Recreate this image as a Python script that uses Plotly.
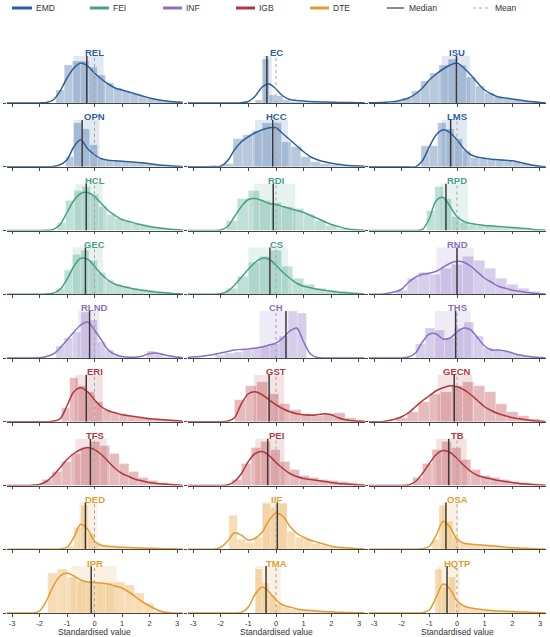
import plotly.graph_objects as go

# ---------------- data ----------------
NAMES = ["REL", "EC", "ISU",
         "OPN", "HCC", "LMS",
         "HCL", "RDI", "RPD",
         "GEC", "CS", "RND",
         "RLND", "CH", "THS",
         "ERI", "GST", "GECN",
         "TFS", "PEI", "TB",
         "DED", "IIF", "OSA",
         "IPR", "TMA", "HQTP"]
GROUPS = ["EMD", "EMD", "EMD",
          "EMD", "EMD", "EMD",
          "FEI", "FEI", "FEI",
          "FEI", "FEI", "INF",
          "INF", "INF", "INF",
          "IGB", "IGB", "IGB",
          "IGB", "IGB", "IGB",
          "DTE", "DTE", "DTE",
          "DTE", "DTE", "DTE"]
GROUP_ORDER = ["EMD", "FEI", "INF", "IGB", "DTE"]

MEDIANS = [-0.28, -0.33, -0.02,
           -0.45, -0.12, -0.23,
           -0.30, -0.10, -0.40,
           -0.33, -0.22, 0.00,
           -0.18, 0.36, -0.05,
           -0.30, -0.25, -0.10,
           -0.15, -0.30, -0.30,
           -0.33, 0.05, -0.40,
           -0.12, -0.36, -0.36]
MEANS = [0.0, 0.0, 0.0,
         0.0, 0.0, 0.0,
         0.0, 0.0, 0.0,
         0.0, 0.0, 0.0,
         0.0, 0.0, 0.0,
         0.0, 0.0, 0.0,
         0.0, 0.0, 0.0,
         0.0, 0.0, 0.0,
         0.0, 0.0, 0.0]
Q1 = [-0.76, -0.45, -0.55,
      -0.76, -0.76, -0.55,
      -0.70, -0.80, -0.60,
      -0.80, -1.00, -0.75,
      -0.60, -0.60, -0.80,
      -0.70, -0.80, -0.70,
      -0.70, -0.75, -0.75,
      -0.55, -0.47, -0.55,
      -0.85, -0.76, -0.70]
Q3 = [0.33, -0.15, 0.47,
      0.18, 0.43, 0.36,
      0.30, 0.70, 0.40,
      0.30, 0.43, 0.60,
      0.18, 0.45, 0.50,
      0.30, 0.30, 0.55,
      0.45, 0.30, 0.35,
      0.10, 0.40, 0.05,
      0.80, 0.17, 0.10]

HIST_START = [-1.4, -0.75, -2.3,
              -1.05, -1.9, -1.3,
              -1.35, -1.8, -1.1,
              -1.4, -1.8, -2.2,
              -1.4, -2.2, -1.5,
              -1.2, -1.5, -2.2,
              -1.9, -1.6, -1.6,
              -1.0, -1.7, -0.9,
              -1.7, -0.75, -0.8]
HIST_WIDTH = [0.30, 0.25, 0.33,
              0.29, 0.35, 0.30,
              0.30, 0.40, 0.30,
              0.30, 0.40, 0.40,
              0.30, 0.33, 0.35,
              0.30, 0.40, 0.40,
              0.35, 0.35, 0.35,
              0.25, 0.30, 0.25,
              0.35, 0.25, 0.25]
HIST_COUNTS = [
    [13, 38, 42, 42, 36, 28, 20, 15, 12, 9, 7, 5, 3, 2, 1],
    [3, 44, 8, 7, 3, 1.5, 1, 0.8, 0.6, 0.5, 0.4, 0.3, 0.3, 0.2, 0.2],
    [2, 5, 12, 22, 30, 38, 44, 38, 26, 17, 10, 6, 4, 3, 2, 1],
    [10, 44, 38, 22, 8, 6, 6, 5, 4, 4, 3, 2, 1.5, 1],
    [3, 28, 32, 36, 44, 44, 25, 20, 10, 5, 3, 2, 1, 1],
    [21, 21, 44, 38, 28, 16, 9, 8, 7, 7, 6, 5, 3, 1.5, 0.5],
    [8, 30, 40, 44, 36, 24, 16, 12, 9, 7, 6, 4, 3, 2, 1.5],
    [10, 32, 40, 30, 28, 24, 22, 16, 10, 5, 2, 1],
    [20, 44, 32, 14, 8, 6, 5, 5, 4, 3, 3, 2, 1, 0.5],
    [6, 24, 40, 44, 34, 22, 14, 10, 8, 6, 5, 4, 3, 2, 1],
    [6, 18, 32, 38, 44, 28, 16, 10, 6, 4, 3, 2],
    [4, 16, 22, 20, 26, 30, 38, 34, 26, 16, 10, 6, 3],
    [12, 20, 26, 46, 38, 16, 8, 2, 0, 0, 0, 7, 5, 1, 1],
    [3, 5, 6, 8, 10, 12, 14, 22, 47, 45],
    [14, 30, 28, 20, 30, 36, 22, 10, 8, 7, 4, 2, 1],
    [14, 44, 36, 30, 20, 12, 9, 8, 6, 5, 4, 3, 2, 2, 1],
    [22, 36, 40, 28, 18, 12, 8, 6, 8, 9, 4, 2],
    [4, 10, 20, 28, 30, 36, 40, 36, 30, 18, 10, 6, 3],
    [6, 14, 24, 32, 38, 44, 40, 32, 22, 14, 8, 5, 3, 2],
    [6, 22, 38, 44, 36, 24, 16, 10, 8, 6, 5, 4, 3, 2],
    [8, 22, 36, 44, 38, 26, 16, 10, 8, 6, 4, 3, 2, 1],
    [3, 22, 44, 16, 6, 4, 3, 2, 2, 1.5, 1, 1, 0.8, 0.6, 0.5, 0.5],
    [34, 10, 7, 12, 46, 42, 46, 18, 12, 10, 6, 4, 3, 2, 1, 1],
    [10, 44, 28, 12, 7, 6, 5, 4, 4, 3, 2, 1.5, 1, 1, 0.5],
    [40, 44, 36, 32, 32, 30, 30, 31, 28, 20, 10, 2],
    [44, 30, 18, 9, 6, 4, 3, 2.5, 2, 1.5, 1, 1, 0.5, 0.5],
    [44, 26, 36, 10, 6, 4, 3, 2.5, 2, 1.5, 1.2, 1, 0.8, 0.5, 0.5],
]

KDE_X = [-3.25, -3.0, -2.75, -2.5, -2.25, -2.0, -1.75, -1.5, -1.25, -1.0, -0.75, -0.5, -0.25,
         0.0, 0.25, 0.5, 0.75, 1.0, 1.25, 1.5, 1.75, 2.0, 2.25, 2.5, 2.75, 3.0, 3.25]
KDE_Y = [
    [0, 0, 0, 0, 0, 0.1, 0.5, 3, 12, 25, 35, 40, 37, 30, 24, 19, 15, 13, 11, 9, 7, 5, 3.5, 2.5, 1.5, 1, 0.7],
    [0, 0, 0, 0, 0, 0, 0, 0, 0.3, 1.5, 7, 16, 19, 14, 7, 3.5, 2.5, 2, 1.5, 1.2, 1, 0.8, 0.6, 0.5, 0.4, 0.3, 0.2],
    [0.2, 0.3, 0.5, 1, 1.5, 3, 5, 9, 15, 23, 29, 34, 38, 40, 35, 28, 20, 13, 9, 6, 5, 4, 3, 2, 1.2, 0.6, 0.3],
    [0, 0, 0, 0, 0, 0, 0, 0.3, 2, 7, 20, 27, 18, 12, 8, 6.5, 6, 5.5, 5, 4.5, 4, 3, 2.2, 1.5, 1, 0.5, 0.3],
    [0, 0, 0, 0, 0.2, 0.5, 6, 17, 25, 30, 34, 37, 39, 39, 33, 27, 21, 15, 10, 7, 5, 3.5, 2.5, 1.5, 1, 0.7, 0.5],
    [0, 0, 0, 0, 0, 0, 0, 0, 6, 20, 32, 37, 34, 27, 18, 12, 9.5, 8.5, 7.5, 7, 6.5, 6, 4.5, 3, 1.5, 0.5, 0.2],
    [0, 0, 0, 0, 0, 0, 0.2, 1, 6, 18, 30, 37, 38, 34, 27, 20, 15, 11, 9, 7, 5.5, 4, 3, 2, 1.3, 0.8, 0.5],
    [0, 0, 0, 0, 0, 0.5, 4, 14, 24, 31, 32, 30, 27, 26, 24, 22, 20, 18, 15, 12, 9, 6, 4, 2, 1, 0.5, 0.2],
    [0, 0, 0, 0, 0, 0, 0, 0, 1, 12, 30, 33, 24, 14, 9, 7, 6, 5, 4.5, 4, 3.5, 3, 2.5, 2, 1, 0.5, 0.2],
    [0, 0, 0, 0, 0, 0, 0.3, 1, 5, 15, 28, 36, 35, 28, 20, 14, 10, 8, 6.5, 5, 4, 3, 2, 1.5, 1, 0.5, 0.2],
    [0, 0, 0, 0, 0, 0.5, 3, 9, 17, 25, 32, 36, 35, 29, 22, 16, 11, 8, 6.5, 5, 4, 3, 2, 1.5, 1, 0.5, 0.2],
    [0, 0, 0, 1, 2.5, 5, 12, 17, 20, 21, 23, 27, 31, 33, 32, 28, 22, 16, 12, 8, 6, 4, 3, 2, 1, 0.5, 0.2],
    [0, 0, 0, 0, 0, 0.3, 1.5, 4, 10, 18, 26, 33, 36, 28, 18, 8, 3.5, 1.5, 0.8, 0.8, 2, 4.5, 5, 3.5, 2, 1, 0.5],
    [0.5, 1, 1.5, 2.5, 3.5, 5, 6.5, 8, 8.5, 9, 10, 11, 13, 15, 20, 27, 30, 16, 4, 0.5, 0, 0, 0, 0, 0, 0, 0],
    [0, 0, 0, 0, 0, 0, 1, 5, 16, 24, 24, 19, 20, 26, 30, 28, 20, 12, 8, 8, 7, 5, 3, 2, 1, 0.5, 0.2],
    [0, 0, 0, 0, 0, 0, 0, 0.5, 3, 16, 30, 34, 30, 22, 15, 11, 9, 7, 6, 5, 4, 3, 2.5, 2, 1.5, 1, 0.5],
    [0, 0, 0, 0, 0, 0, 0.5, 4, 18, 28, 30, 27, 22, 17, 13, 10, 8, 7, 6.5, 7, 8, 7, 4, 2, 1, 0.5, 0.2],
    [0, 0, 0, 1, 2.5, 5, 9, 15, 21, 26, 31, 34, 36, 35, 32, 27, 21, 15, 11, 8, 6, 4, 3, 2, 1, 0.5, 0.2],
    [0, 0, 0, 0, 0.3, 1, 4, 10, 18, 26, 32, 36, 38, 36, 31, 24, 17, 12, 9, 6, 4.5, 3, 2, 1.5, 1, 0.5, 0.2],
    [0, 0, 0, 0, 0, 0, 0.5, 4, 12, 24, 32, 34, 30, 23, 17, 12, 9, 7, 6, 5, 4, 3, 2, 1.5, 1, 0.5, 0.2],
    [0, 0, 0, 0, 0, 0, 0.5, 4, 12, 22, 31, 35, 33, 27, 20, 14, 10, 8, 6.5, 5, 4, 3, 2, 1.5, 1, 0.5, 0.2],
    [0, 0, 0, 0, 0, 0, 0, 0, 0.3, 2, 12, 25, 20, 8, 4, 3, 2.5, 2, 1.7, 1.5, 1.2, 1, 0.8, 0.6, 0.5, 0.3, 0.2],
    [0, 0, 0, 0, 0, 2, 8, 16.5, 14, 9, 11, 17, 29, 36, 33, 23, 16, 12, 9, 7, 5, 3, 2, 1.5, 1, 0.5, 0.2],
    [0, 0, 0, 0, 0, 0, 0, 0, 0.5, 3, 14, 28, 22, 10, 6, 5, 4.5, 4, 3.5, 3, 2, 1.5, 1.2, 1, 0.6, 0.3, 0.1],
    [0, 0, 0, 0, 0, 2, 12, 27, 37, 40, 37, 33, 31, 30.5, 30, 29, 27, 25, 21, 16, 11, 7, 3.5, 1, 0.3, 0, 0],
    [0, 0, 0, 0, 0, 0, 0, 0, 0.5, 6, 19, 26, 21, 13, 8, 6, 4, 3, 2.5, 2, 1.5, 1.2, 0.8, 0.6, 0.4, 0.3, 0.1],
    [0, 0, 0, 0, 0, 0, 0, 0, 0.3, 3, 16, 29, 24, 12, 7, 5, 4, 3, 2.5, 2, 1.7, 1.5, 1.2, 1, 0.6, 0.3, 0.1],
]

X_TICKS = [-3, -2, -1, 0, 1, 2, 3]
X_TICK_TEXT = ["-3", "-2", "-1", "0", "1", "2", "3"]
X_TITLE = "Standardised value"

# ---------------- style ----------------
COLORS = {"EMD": "#2d5f9a", "FEI": "#46a088", "INF": "#8b6fc0",
          "IGB": "#b3373e", "DTE": "#e49b2f"}
FONT = "Liberation Sans, Arial, sans-serif"
W, H = 550, 637
COL_PX = [(6.5, 182.5), (187.5, 364.5), (368.5, 545.5)]
BASE0, PITCH, PANEL_H, YMAX = 103.0, 63.75, 47.0, 47.0
AXIS_COL = "#444444"


def rgba(hexc, a):
    h = hexc.lstrip("#")
    r, g, b = int(h[0:2], 16), int(h[2:4], 16), int(h[4:6], 16)
    return f"rgba({r},{g},{b},{a})"


fig = go.Figure()
shapes, annotations, axes = [], [], {}

for i, name in enumerate(NAMES):
    r, c = divmod(i, 3)
    n = i + 1
    sfx = "" if n == 1 else str(n)
    xref, yref = "x" + sfx, "y" + sfx
    col = COLORS[GROUPS[i]]
    base = BASE0 + PITCH * r
    top = base - PANEL_H
    x0p, x1p = COL_PX[c]

    axes["xaxis" + sfx] = dict(
        domain=[x0p / W, x1p / W], anchor=yref, range=[-3.2, 3.2],
        tickvals=X_TICKS, ticktext=X_TICK_TEXT, ticks="outside", ticklen=3, tickwidth=0.8,
        tickcolor=AXIS_COL, showline=True, linecolor=AXIS_COL, linewidth=0.9,
        showgrid=False, zeroline=False, automargin=False,
        showticklabels=(r == 8), tickfont=dict(size=7.5, color="#333", family=FONT),
        fixedrange=True)
    axes["yaxis" + sfx] = dict(
        domain=[(H - base) / H, (H - top) / H], anchor=xref, range=[0, YMAX],
        showgrid=False, zeroline=False, showticklabels=False, tickvals=[0], automargin=False,
        ticks="outside", ticklen=3, tickwidth=0.8, tickcolor=AXIS_COL, showline=False,
        fixedrange=True)

    w = HIST_WIDTH[i]
    counts = HIST_COUNTS[i]
    centers = [HIST_START[i] + w * (k + 0.5) for k in range(len(counts))]
    fig.add_trace(go.Bar(x=centers, y=counts, width=w, xaxis=xref, yaxis=yref,
                         marker=dict(color=rgba(col, 0.34), line=dict(width=0.4, color="rgba(255,255,255,0.6)")),
                         showlegend=False, hoverinfo="skip"))
    fig.add_trace(go.Scatter(x=KDE_X, y=KDE_Y[i], mode="lines", xaxis=xref, yaxis=yref,
                             line=dict(color=col, width=1.5, shape="spline", smoothing=0.9),
                             showlegend=False, hoverinfo="skip"))

    shapes.append(dict(type="rect", xref=xref, yref=yref, x0=Q1[i], x1=Q3[i], y0=0, y1=YMAX,
                       fillcolor=rgba(col, 0.14), line=dict(width=0), layer="below"))
    shapes.append(dict(type="line", xref=xref, yref=yref, x0=MEANS[i], x1=MEANS[i], y0=0, y1=YMAX,
                       line=dict(color="#a3a6b0", width=1, dash="dot"), layer="above"))
    shapes.append(dict(type="line", xref=xref, yref=yref, x0=MEDIANS[i], x1=MEDIANS[i], y0=0, y1=YMAX,
                       line=dict(color="#3a3a3a", width=1.5), layer="above"))

    annotations.append(dict(text=f"<b>{name}</b>", xref="paper", yref="paper",
                            x=(x0p + x1p) / 2 / W, y=(H - (base - 50)) / H,
                            xanchor="center", yanchor="middle", showarrow=False,
                            font=dict(size=9.5, color=col, family=FONT)))
    if r == 8:
        annotations.append(dict(text=X_TITLE, xref="paper", yref="paper",
                                x=(x0p + x1p) / 2 / W, y=(H - 631.5) / H,
                                xanchor="center", yanchor="middle", showarrow=False,
                                font=dict(size=8.5, color="#333", family=FONT)))

# ---------------- legend (drawn manually to match placement) ----------------
LEG_Y = 8
legend_items = [("EMD", 12, 32), ("FEI", 90, 109), ("INF", 163, 182),
                ("IGB", 236, 255), ("DTE", 310, 329)]
for g, lx0, lx1 in legend_items:
    shapes.append(dict(type="line", xref="paper", yref="paper",
                       x0=lx0 / W, x1=lx1 / W, y0=(H - LEG_Y) / H, y1=(H - LEG_Y) / H,
                       line=dict(color=COLORS[g], width=3)))
    annotations.append(dict(text=g, xref="paper", yref="paper", x=(lx1 + 2) / W, y=(H - LEG_Y) / H,
                            xanchor="left", yanchor="middle", showarrow=False,
                            font=dict(size=8.5, color="#333", family=FONT)))
shapes.append(dict(type="line", xref="paper", yref="paper", x0=387 / W, x1=404 / W,
                   y0=(H - LEG_Y) / H, y1=(H - LEG_Y) / H, line=dict(color="#3a3a3a", width=1.2)))
annotations.append(dict(text="Median", xref="paper", yref="paper", x=407 / W, y=(H - LEG_Y) / H,
                        xanchor="left", yanchor="middle", showarrow=False,
                        font=dict(size=8.5, color="#333", family=FONT)))
shapes.append(dict(type="line", xref="paper", yref="paper", x0=473 / W, x1=490 / W,
                   y0=(H - LEG_Y) / H, y1=(H - LEG_Y) / H,
                   line=dict(color="#a3a6b0", width=1, dash="dot")))
annotations.append(dict(text="Mean", xref="paper", yref="paper", x=493 / W, y=(H - LEG_Y) / H,
                        xanchor="left", yanchor="middle", showarrow=False,
                        font=dict(size=8.5, color="#333", family=FONT)))

fig.update_layout(width=W, height=H, margin=dict(l=0, r=0, t=0, b=0, autoexpand=False),
                  paper_bgcolor="white", plot_bgcolor="white", showlegend=False,
                  barmode="overlay", font=dict(family=FONT, color="#333"),
                  shapes=shapes, annotations=annotations, **axes)

fig.write_html("out.html", config={"displayModeBar": False},
               post_script="document.body.style.margin='0px';document.body.style.overflow='hidden';")
